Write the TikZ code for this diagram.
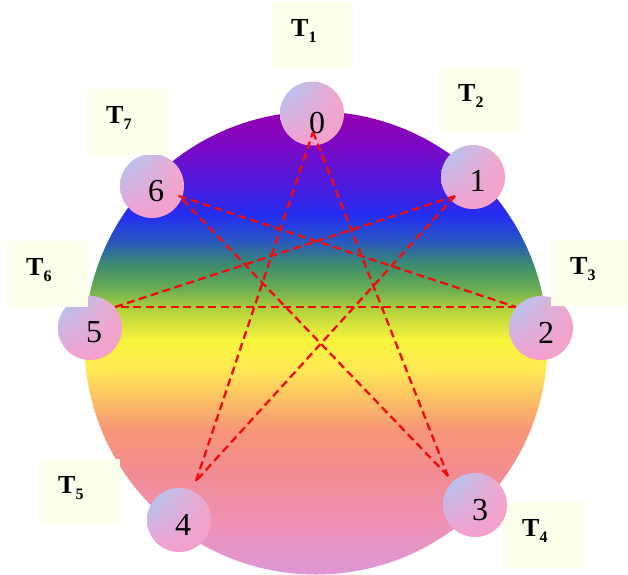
\documentclass[tikz,border=0pt]{standalone}
\usepackage{fontspec}
\setmainfont{Liberation Serif}
\usetikzlibrary{shadings}
\definecolor{g0}{RGB}{150,0,175}
\definecolor{g1}{RGB}{120,10,200}
\definecolor{g2}{RGB}{70,30,225}
\definecolor{g3}{RGB}{35,45,240}
\definecolor{g4}{RGB}{40,85,195}
\definecolor{g5}{RGB}{60,140,110}
\definecolor{g6}{RGB}{110,175,80}
\definecolor{g7}{RGB}{180,210,60}
\definecolor{g8}{RGB}{248,245,60}
\definecolor{g9}{RGB}{255,232,85}
\definecolor{g10}{RGB}{250,190,100}
\definecolor{g11}{RGB}{247,150,120}
\definecolor{g12}{RGB}{242,140,145}
\definecolor{g13}{RGB}{240,145,180}
\definecolor{g14}{RGB}{220,152,215}
\definecolor{sblue}{RGB}{165,205,248}
\definecolor{spinkA}{RGB}{245,165,205}
\definecolor{spinkB}{RGB}{245,158,210}
\definecolor{spinkC}{RGB}{245,160,200}
\definecolor{boxfill}{RGB}{250,254,235}
\definecolor{dashred}{RGB}{240,12,12}
\pgfdeclareverticalshading{rainbowv}{100bp}{%
color(0bp)=(g14); color(25bp)=(g14); color(30.84bp)=(g13); color(36.26bp)=(g12);
color(40.58bp)=(g11); color(43.83bp)=(g10); color(47.08bp)=(g9); color(50.32bp)=(g8);
color(53.57bp)=(g7); color(55.74bp)=(g6); color(58.44bp)=(g5); color(61.15bp)=(g4);
color(63.85bp)=(g3); color(66.56bp)=(g2); color(70.89bp)=(g1); color(75bp)=(g0);
color(100bp)=(g0)}
\tikzset{
  bigdisc/.style={circle, minimum size=463pt, inner sep=0pt, shade, shading=rainbowv},
  smallc/.style={circle, minimum size=64pt, inner sep=0pt, shade,
    upper left=sblue, upper right=spinkA, lower left=spinkB, lower right=spinkC},
  digit/.style={anchor=base, inner sep=0pt, font=\fontsize{32pt}{32pt}\selectfont},
  tbox/.style={anchor=north west, minimum width=81pt, minimum height=66pt, inner sep=0pt, fill=boxfill},
  tlab/.style={anchor=base west, inner sep=0pt, font=\fontsize{26pt}{26pt}\selectfont\bfseries},
  star/.style={draw=dashred, line width=2.3pt, dash pattern=on 8pt off 4.5pt}
}
\newcommand{\tsub}[1]{T\raisebox{-6pt}{\fontsize{16pt}{16pt}\selectfont\bfseries #1}}
\begin{document}
\begin{tikzpicture}[x=1pt,y=-1pt]
\useasboundingbox (0,0) rectangle (628,574);
\node[bigdisc] (disc) at (316,343) {};
% T4 box below circle 3
\node[tbox] (b4) at (503,502) {};
% small circles
\node[smallc] (c0) at (312,113.5) {};
\node[smallc] (c1) at (473,177) {};
\node[smallc] (c2) at (541,328) {};
\node[smallc] (c3) at (475,505) {};
\node[smallc] (c4) at (179,520) {};
\node[smallc] (c5) at (90,328) {};
\node[smallc] (c6) at (152,186) {};
% other boxes
\node[tbox] (b1) at (272,2) {};
\node[tbox] (b2) at (439,67) {};
\node[tbox] (b3) at (551,240) {};
\node[tbox] (b5) at (39,459) {};
\node[tbox] (b6) at (7,241) {};
\node[tbox] (b7) at (87,89) {};
% T labels
\node[tlab] (t1) at (291,36.5) {\tsub{1}};
\node[tlab] (t2) at (458,101.5) {\tsub{2}};
\node[tlab] (t3) at (570,274.5) {\tsub{3}};
\node[tlab] (t4) at (522,536.5) {\tsub{4}};
\node[tlab] (t5) at (58,493.5) {\tsub{5}};
\node[tlab] (t6) at (26,275.5) {\tsub{6}};
\node[tlab] (t7) at (106,123.5) {\tsub{7}};
% digits
\node[digit] (d0) at (317,133) {0};
\node[digit] (d1) at (477.5,191) {1};
\node[digit] (d2) at (546,343) {2};
\node[digit] (d3) at (480,520) {3};
\node[digit] (d4) at (183,535) {4};
\node[digit] (d5) at (94,342) {5};
\node[digit] (d6) at (156,201) {6};
% star endpoints
\coordinate (p0) at (313,132);
\coordinate (p1) at (455,196);
\coordinate (p2) at (516,307);
\coordinate (p3) at (448,476);
\coordinate (p4) at (196,481);
\coordinate (p5) at (115,307);
\coordinate (p6) at (179,196);
\draw[star] (p0) -- (p3);
\draw[star] (p3) -- (p6);
\draw[star] (p6) -- (p2);
\draw[star] (p2) -- (p5);
\draw[star] (p5) -- (p1);
\draw[star] (p1) -- (p4);
\draw[star] (p4) -- (p0);
\end{tikzpicture}
\end{document}
